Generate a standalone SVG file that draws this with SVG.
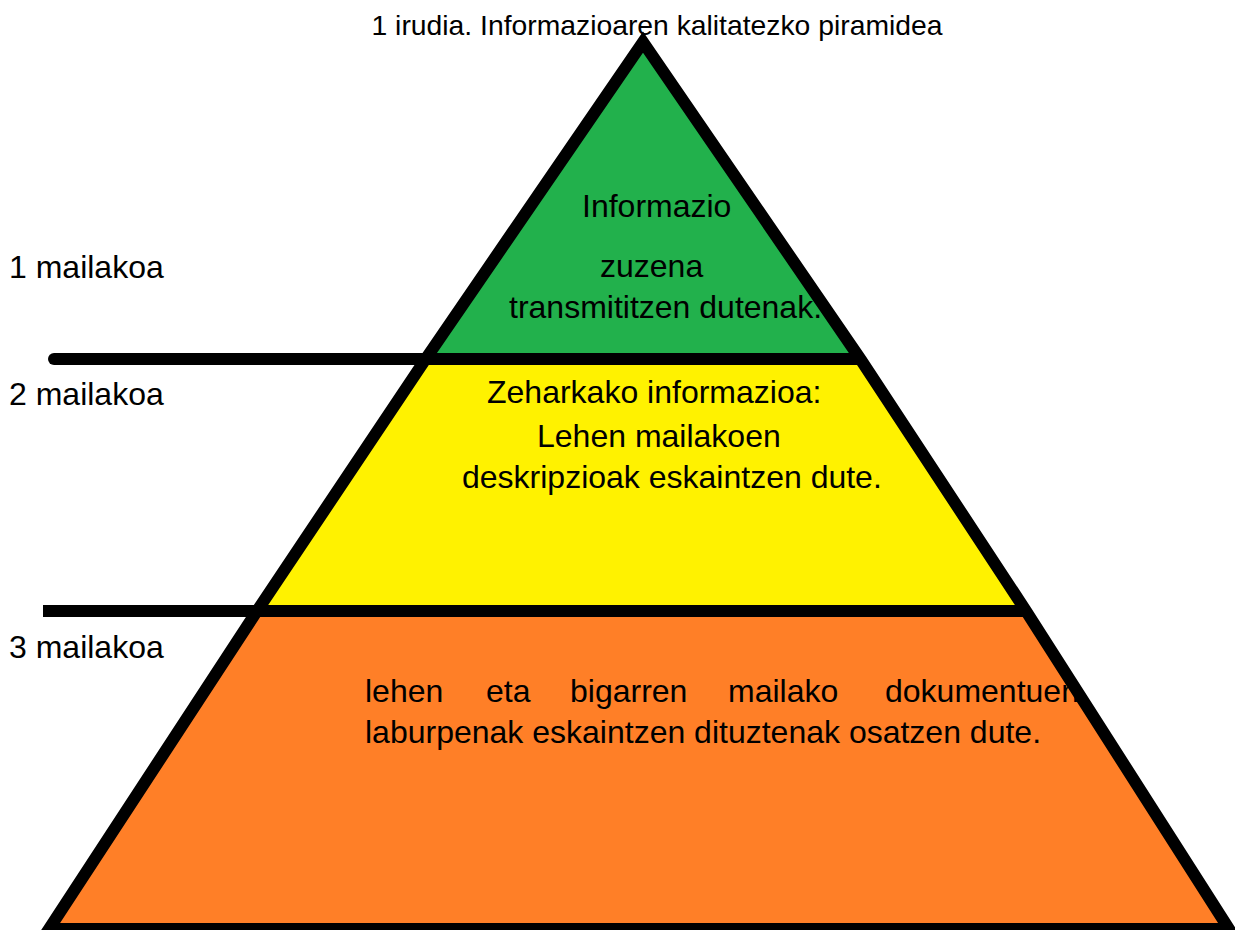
<svg xmlns="http://www.w3.org/2000/svg" width="1235" height="930" viewBox="0 0 1235 930">
  <style>
    text { font-family: "Liberation Sans", Arial, sans-serif; fill: #000; }
    .body { font-size: 32px; }
    .title { font-size: 28.3px; }
    .outline { fill: none; stroke: #000; stroke-width: 12; stroke-linejoin: miter; stroke-miterlimit: 10; }
    .sep { stroke: #000; stroke-width: 12; fill: none; }
  </style>
  <defs>
    <clipPath id="tri">
      <path d="M 49 929 L 257 611 L 427 357 L 643 42 L 861 360 L 1026 611 L 1229 929 Z"/>
    </clipPath>
  </defs>
  <rect x="0" y="0" width="1235" height="930" fill="#fff"/>

  <g id="fills" clip-path="url(#tri)">
    <rect x="0" y="0" width="1235" height="359" fill="#22B14C"/>
    <rect x="0" y="359" width="1235" height="252" fill="#FFF200"/>
    <rect x="0" y="611" width="1235" height="319" fill="#FF7F27"/>
  </g>

  <g id="level1">
    <text class="body" x="582" y="217">Informazio</text>
    <text class="body" x="600" y="277">zuzena</text>
    <text class="body" x="509" y="318">transmititzen dutenak.</text>
  </g>

  <g id="level2">
    <text class="body" x="487" y="403">Zeharkako informazioa:</text>
    <text class="body" x="537" y="447">Lehen mailakoen</text>
    <text class="body" x="462" y="488">deskripzioak eskaintzen dute.</text>
  </g>

  <g id="level3">
    <text class="body" y="702"><tspan x="365">lehen</tspan><tspan x="486">eta</tspan><tspan x="570">bigarren</tspan><tspan x="728">mailako</tspan><tspan x="885">dokumentuen</tspan></text>
    <text class="body" x="365" y="743">laburpenak eskaintzen dituztenak osatzen dute.</text>
  </g>

  <g id="connectors">
    <path class="outline" d="M 49 929 L 257 611 L 427 357 L 643 42 L 861 360 L 1026 611 L 1229 929 Z"/>
    <line class="sep" x1="54" y1="359" x2="857" y2="359" stroke-linecap="round"/>
    <line class="sep" x1="43" y1="611" x2="1026" y2="611"/>
  </g>

  <g id="labels">
    <text class="body" x="9" y="278">1 mailakoa</text>
    <text class="body" x="9" y="405">2 mailakoa</text>
    <text class="body" x="9" y="658">3 mailakoa</text>
  </g>

  <g id="title">
    <text class="title" x="657" y="35" text-anchor="middle">1 irudia. Informazioaren kalitatezko piramidea</text>
  </g>
</svg>
